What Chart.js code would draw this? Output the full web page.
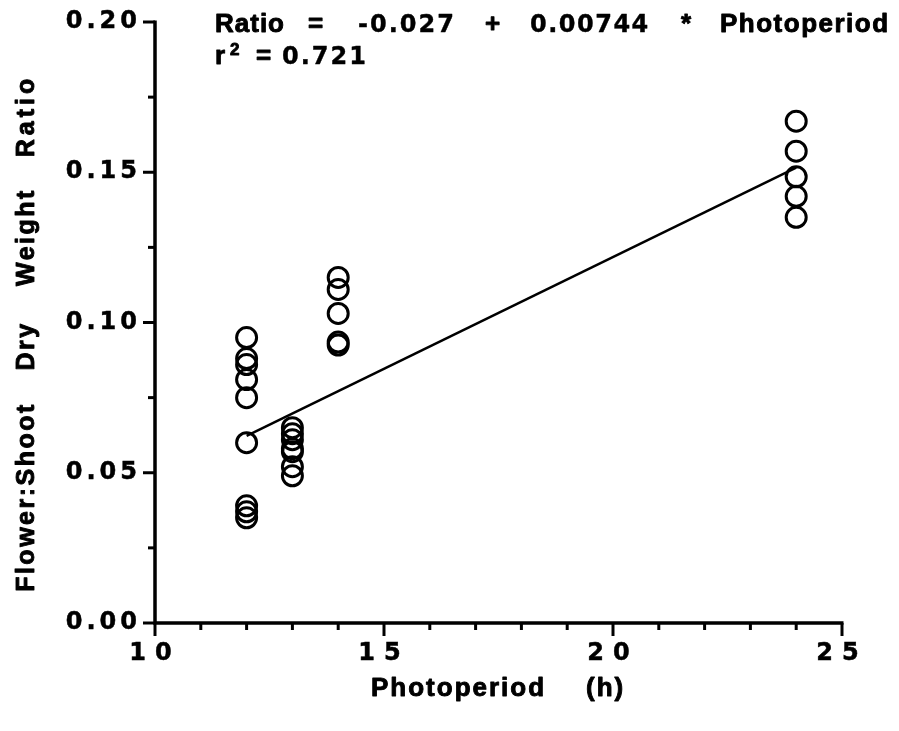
<!DOCTYPE html>
<html>
<head>
<meta charset="utf-8">
<script src="https://cdn.jsdelivr.net/npm/chart.js@4.4.1/dist/chart.umd.min.js"></script>
<style>
  html, body { margin: 0; padding: 0; background: #fff; }
  #wrap { width: 899px; height: 731px; }
</style>
</head>
<body>
<div id="wrap"><canvas id="chart" width="899" height="731"></canvas></div>
<script>
// photoperiod groups (h) and the ratios
var x12 = [0.095, 0.088, 0.086, 0.081, 0.075, 0.060, 0.039, 0.037, 0.035];
var x13 = [0.065, 0.063, 0.061, 0.058, 0.057, 0.052, 0.049];
var x14 = [0.115, 0.111, 0.103, 0.0935, 0.0925];
var x24 = [0.167, 0.157, 0.1485, 0.142, 0.135];

// fitted line as printed on the figure
var fitIntercept = -0.027;
var fitSlope = 0.00744;
var fitRange = [12, 24];

var xTicks = [10, 15, 20, 25];
var yTicks = [0.00, 0.05, 0.10, 0.15, 0.20];
var xMinorStep = 1;
var yMinorStep = 0.025;

var FONT = '"Liberation Sans", Arial, sans-serif';
var DIGITS = '"DejaVu Sans", sans-serif';

function group(x, vals) {
  return vals.map(function (v) { return { x: x, y: v }; });
}

var points = [].concat(group(12, x12), group(13, x13), group(14, x14), group(24, x24));
var fitLine = fitRange.map(function (x) { return { x: x, y: fitIntercept + fitSlope * x }; });

// heavy text: fill plus thin stroke
function boldText(ctx, str, x, y, maxW) {
  if (maxW) {
    ctx.fillText(str, x, y, maxW);
    ctx.strokeText(str, x, y, maxW);
  } else {
    ctx.fillText(str, x, y);
    ctx.strokeText(str, x, y);
  }
}

// tick labels get their own letter spacing
function spacedLabels(scale, spacing) {
  if (scale._spaced) return;
  var orig = scale.drawLabels;
  scale.drawLabels = function (area) {
    this.ctx.letterSpacing = spacing;
    orig.call(this, area);
    this.ctx.letterSpacing = '0px';
  };
  scale._spaced = true;
}

// keep the plot box where the figure has it
function noPad(scale) {
  scale.paddingTop = 0;
  scale.paddingBottom = 0;
  scale.paddingLeft = 0;
  scale.paddingRight = 0;
}

// draws axes, ticks, titles and the equation text
var framePlugin = {
  id: 'frame',
  afterDraw: function (chart) {
    var ctx = chart.ctx;
    var xs = chart.scales.x, ys = chart.scales.y;
    var left = xs.left, bottom = ys.bottom;
    ctx.save();
    ctx.letterSpacing = '0px';
    ctx.strokeStyle = '#000';
    ctx.fillStyle = '#000';
    ctx.lineWidth = 3.5;
    ctx.lineCap = 'butt';

    // axis lines
    ctx.beginPath();
    ctx.moveTo(left, ys.top - 1.5);
    ctx.lineTo(left, bottom);
    ctx.lineTo(xs.right + 1.5, bottom);
    ctx.stroke();

    // y ticks
    var v, p;
    ctx.lineWidth = 3;
    for (v = ys.min; v <= ys.max + 1e-9; v += yMinorStep) {
      p = ys.getPixelForValue(v);
      var major = Math.abs(v / 0.05 - Math.round(v / 0.05)) < 1e-6;
      ctx.beginPath();
      ctx.moveTo(left, p);
      ctx.lineTo(left - (major ? 12 : 7), p);
      ctx.stroke();
    }
    // x ticks
    for (v = xs.min; v <= xs.max + 1e-9; v += xMinorStep) {
      p = xs.getPixelForValue(v);
      var majorX = xTicks.indexOf(Math.round(v)) >= 0;
      ctx.beginPath();
      ctx.moveTo(p, bottom);
      ctx.lineTo(p, bottom + (majorX ? 13 : 7));
      ctx.stroke();
    }

    ctx.lineWidth = 0.9;
    ctx.lineJoin = 'round';

    // x title
    ctx.font = 'bold 26px ' + FONT;
    ctx.textBaseline = 'middle';
    ctx.textAlign = 'left';
    ctx.letterSpacing = '2px';
    boldText(ctx, 'Photoperiod', 371, 689);
    boldText(ctx, '(h)', 586, 689);

    // y title, one word at a time
    ctx.save();
    ctx.translate(27, 0);
    ctx.rotate(-Math.PI / 2);
    ctx.textAlign = 'center';
    ctx.font = 'bold 25px ' + FONT;
    ctx.letterSpacing = '2.5px';
    boldText(ctx, 'Flower:Shoot', -497, 0);
    boldText(ctx, 'Dry', -346, 0);
    boldText(ctx, 'Weight', -237, 0);
    ctx.letterSpacing = '4px';
    boldText(ctx, 'Ratio', -116, 0);
    ctx.restore();

    // equation
    var letters = 'bold 26px ' + FONT;
    var digits = 'bold 24px ' + DIGITS;
    ctx.textBaseline = 'alphabetic';
    ctx.textAlign = 'left';
    ctx.font = letters;
    ctx.letterSpacing = '1px';
    boldText(ctx, 'Ratio', 215, 32);
    ctx.letterSpacing = '0px';
    boldText(ctx, '=', 308, 32);
    ctx.font = digits;
    ctx.lineWidth = 0.4;
    ctx.letterSpacing = '2px';
    boldText(ctx, '-0.027', 358, 32);
    ctx.lineWidth = 0.9;
    ctx.font = letters;
    ctx.letterSpacing = '0px';
    boldText(ctx, '+', 485, 32);
    ctx.font = digits;
    ctx.lineWidth = 0.4;
    ctx.letterSpacing = '1.5px';
    boldText(ctx, '0.00744', 530, 32);
    ctx.lineWidth = 0.9;
    ctx.font = letters;
    ctx.letterSpacing = '0px';
    boldText(ctx, '*', 681, 32);
    ctx.letterSpacing = '1.5px';
    boldText(ctx, 'Photoperiod', 720, 32, 172);

    ctx.letterSpacing = '0px';
    boldText(ctx, 'r', 215, 64);
    ctx.font = 'bold 17px ' + FONT;
    boldText(ctx, '2', 230, 55);
    ctx.font = letters;
    boldText(ctx, '=', 256, 64);
    ctx.font = digits;
    ctx.lineWidth = 0.4;
    ctx.letterSpacing = '2px';
    boldText(ctx, '0.721', 282, 64);
    ctx.restore();
  }
};

new Chart(document.getElementById('chart'), {
  type: 'scatter',
  data: {
    datasets: [
      {
        label: 'ratio',
        data: points,
        pointRadius: 10,
        pointHoverRadius: 10,
        pointBorderWidth: 3,
        pointBorderColor: '#000',
        pointBackgroundColor: 'transparent',
        showLine: false
      },
      {
        label: 'fit',
        type: 'line',
        data: fitLine,
        borderColor: '#000',
        borderWidth: 2.5,
        pointRadius: 0,
        fill: false
      }
    ]
  },
  options: {
    responsive: false,
    animation: false,
    events: [],
    layout: { padding: { top: 22, right: 57, left: 0, bottom: 0 } },
    plugins: { legend: { display: false }, tooltip: { enabled: false } },
    scales: {
      x: {
        type: 'linear',
        min: 10,
        max: 25,
        grid: { display: false, drawTicks: false },
        border: { display: false },
        afterBuildTicks: function (scale) {
          scale.ticks = xTicks.map(function (v) { return { value: v }; });
        },
        afterFit: function (scale) {
          scale.height = 108;
          noPad(scale);
          spacedLabels(scale, '9px');
        },
        ticks: {
          color: '#000',
          padding: 16,
          maxRotation: 0,
          autoSkip: false,
          textStrokeColor: '#000',
          textStrokeWidth: 0.5,
          font: { family: DIGITS, size: 24, weight: 'bold' },
          callback: function (v) { return String(v); }
        }
      },
      y: {
        type: 'linear',
        min: 0,
        max: 0.2,
        grid: { display: false, drawTicks: false },
        border: { display: false },
        afterBuildTicks: function (scale) {
          scale.ticks = yTicks.map(function (v) { return { value: v }; });
        },
        afterFit: function (scale) {
          scale.width = 155;
          noPad(scale);
          spacedLabels(scale, '4px');
        },
        ticks: {
          color: '#000',
          padding: 14,
          autoSkip: false,
          textStrokeColor: '#000',
          textStrokeWidth: 0.5,
          font: { family: DIGITS, size: 24, weight: 'bold' },
          callback: function (v) { return v.toFixed(2); }
        }
      }
    }
  },
  plugins: [framePlugin]
});
</script>
</body>
</html>
